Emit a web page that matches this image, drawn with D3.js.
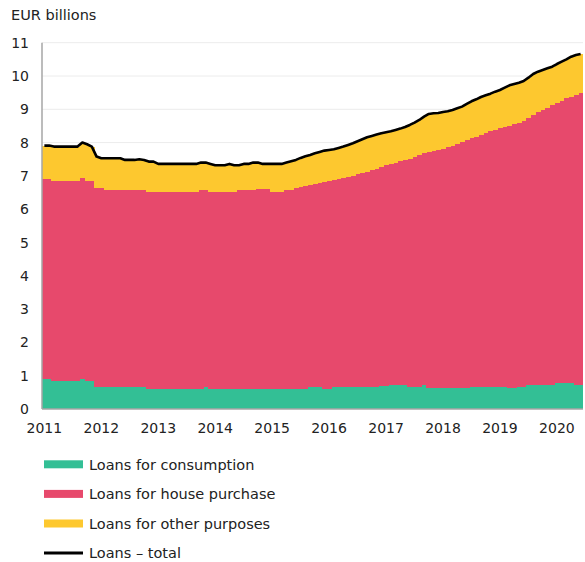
<!DOCTYPE html>
<html>
<head>
<meta charset="utf-8">
<script src="https://cdn.jsdelivr.net/npm/d3@7"></script>
<style>
  html, body { margin: 0; padding: 0; background: #fff; }
  svg text { font-family: "DejaVu Sans", Verdana, sans-serif; fill: #222; }
</style>
</head>
<body>
<svg id="chart" width="585" height="562"></svg>
<script>
// ---- Data (monthly, Jan 2011 – Jun 2020), EUR billions ----
const startYear = 2011;
const nMonths = 114;
const yearTicks = ["2011","2012","2013","2014","2015","2016","2017","2018","2019","2020"];
const yTicks = [0,1,2,3,4,5,6,7,8,9,10,11];

const consumption = [
  0.89,0.89,0.85,0.85,0.85,0.85,0.85,0.85,0.89,0.85,0.85,0.65,
  0.65,0.65,0.65,0.65,0.65,0.65,0.65,0.65,0.65,0.65,0.61,0.61,
  0.61,0.61,0.61,0.61,0.61,0.61,0.61,0.61,0.61,0.61,0.65,0.61,
  0.61,0.61,0.61,0.61,0.61,0.61,0.61,0.61,0.61,0.61,0.61,0.61,
  0.61,0.61,0.61,0.61,0.61,0.61,0.61,0.61,0.65,0.65,0.65,0.61,
  0.61,0.67,0.67,0.67,0.67,0.67,0.67,0.67,0.67,0.67,0.67,0.69,
  0.69,0.71,0.71,0.71,0.71,0.67,0.67,0.67,0.71,0.62,0.62,0.62,
  0.62,0.62,0.62,0.62,0.62,0.62,0.67,0.67,0.67,0.67,0.67,0.67,
  0.67,0.67,0.62,0.62,0.67,0.67,0.72,0.72,0.72,0.72,0.72,0.72,
  0.77,0.77,0.77,0.77,0.72,0.72
];
const housePurchase = [
  6.01,6.01,6.01,6.01,6.01,6.01,6.01,6.01,6.06,6.01,6.01,5.98,
  5.98,5.93,5.93,5.93,5.93,5.93,5.93,5.93,5.93,5.93,5.92,5.92,
  5.92,5.92,5.92,5.92,5.92,5.92,5.92,5.92,5.92,5.97,5.93,5.92,
  5.92,5.92,5.92,5.92,5.92,5.97,5.97,5.97,5.97,6.00,6.00,6.00,
  5.92,5.92,5.92,5.97,5.97,6.02,6.05,6.09,6.08,6.11,6.15,6.22,
  6.25,6.21,6.24,6.26,6.30,6.34,6.38,6.42,6.46,6.51,6.55,6.58,
  6.63,6.65,6.69,6.74,6.77,6.85,6.89,6.95,6.97,7.09,7.13,7.16,
  7.20,7.24,7.29,7.34,7.39,7.46,7.46,7.51,7.57,7.62,7.67,7.71,
  7.76,7.80,7.89,7.93,7.91,7.99,8.03,8.11,8.19,8.27,8.33,8.40,
  8.41,8.48,8.56,8.61,8.72,8.78
];
const otherPurposes = [
  1.01,1.01,1.02,1.02,1.02,1.02,1.02,1.02,1.05,1.09,1.02,0.95,
  0.90,0.95,0.95,0.95,0.95,0.90,0.90,0.90,0.92,0.90,0.90,0.90,
  0.83,0.83,0.83,0.83,0.83,0.83,0.83,0.83,0.83,0.82,0.82,0.83,
  0.79,0.79,0.79,0.83,0.79,0.74,0.78,0.78,0.82,0.79,0.75,0.75,
  0.83,0.83,0.83,0.82,0.86,0.85,0.88,0.89,0.90,0.92,0.92,0.93,
  0.92,0.92,0.93,0.95,0.96,0.97,0.99,1.01,1.03,1.02,1.02,1.01,
  0.99,0.98,0.98,0.97,0.99,1.01,1.04,1.06,1.10,1.15,1.13,1.11,
  1.10,1.08,1.07,1.07,1.07,1.08,1.11,1.12,1.13,1.13,1.13,1.15,
  1.15,1.18,1.21,1.21,1.22,1.19,1.20,1.23,1.22,1.19,1.18,1.16,
  1.18,1.18,1.17,1.20,1.19,1.16
];

const seriesNames = ["Loans for consumption","Loans for house purchase","Loans for other purposes"];
const totalName = "Loans \u2013 total";
const colors = ["#33bf95","#e7496c","#fdc82f"];

// ---- Build table ----
const months = d3.range(nMonths);
const table = months.map(i => ({
  i,
  c: consumption[i],
  h: housePurchase[i],
  o: otherPurposes[i]
}));
const keys = ["c","h","o"];
const stacked = d3.stack().keys(keys)(table);

// ---- Layout ----
const svg = d3.select("#chart");
const mLeft = 42, mRight = 583, mTop = 42.7, mBottom = 409;

const x = d3.scaleBand().domain(months).range([mLeft, mRight]).padding(0);
const y = d3.scaleLinear().domain([0, 11]).range([mBottom, mTop]);

// gridlines
svg.append("g").selectAll("line").data(yTicks.filter(d => d > 0)).join("line")
  .attr("x1", mLeft).attr("x2", mRight)
  .attr("y1", d => y(d)).attr("y2", d => y(d))
  .attr("stroke", "#ececec").attr("stroke-width", 1);

// stacked bars
svg.append("g").selectAll("g").data(stacked).join("g")
  .attr("fill", (d, k) => colors[k])
  .selectAll("rect").data(d => d).join("rect")
  .attr("x", d => x(d.data.i))
  .attr("width", x.bandwidth() + 0.4)
  .attr("y", d => y(d[1]))
  .attr("height", d => y(d[0]) - y(d[1]))
  .attr("shape-rendering", "crispEdges");

// total line
const line = d3.line()
  .x(d => x(d.i) + x.bandwidth() / 2)
  .y(d => y(d.c + d.h + d.o));
svg.append("path")
  .datum(table)
  .attr("d", line)
  .attr("fill", "none")
  .attr("stroke", "#000")
  .attr("stroke-width", 2.6)
  .attr("stroke-linejoin", "round");

// axes lines
svg.append("line").attr("x1", mLeft).attr("x2", mLeft).attr("y1", mTop).attr("y2", mBottom)
  .attr("stroke", "#a6a6a6").attr("stroke-width", 1.5);
svg.append("line").attr("x1", mLeft).attr("x2", mRight).attr("y1", mBottom).attr("y2", mBottom)
  .attr("stroke", "#a6a6a6").attr("stroke-width", 1.5);

// y tick labels
svg.append("g").selectAll("text").data(yTicks).join("text")
  .attr("x", 29).attr("y", d => y(d))
  .attr("dy", "0.36em")
  .attr("text-anchor", "end")
  .attr("font-size", 14)
  .text(d => d);

// x tick labels (at January of each year)
svg.append("g").selectAll("text").data(yearTicks).join("text")
  .attr("x", (d, k) => x(k * 12) + x.bandwidth() / 2)
  .attr("y", 433)
  .attr("text-anchor", "middle")
  .attr("font-size", 14)
  .text(d => d);

// unit label
svg.append("text").attr("x", 11).attr("y", 20).attr("font-size", 14.5).text("EUR billions");

// legend
const legendItems = seriesNames.map((n, k) => ({ name: n, color: colors[k], type: "rect" }))
  .concat([{ name: totalName, color: "#000", type: "line" }]);
const lg = svg.append("g");
legendItems.forEach((it, k) => {
  const cy = 464.3 + k * 29.6;
  if (it.type === "rect") {
    lg.append("rect").attr("x", 44).attr("y", cy - 4).attr("width", 39).attr("height", 8).attr("fill", it.color);
  } else {
    lg.append("line").attr("x1", 44).attr("x2", 83).attr("y1", cy).attr("y2", cy)
      .attr("stroke", "#000").attr("stroke-width", 3);
  }
  lg.append("text").attr("x", 89).attr("y", cy).attr("dy", "0.36em")
    .attr("font-size", 14.5).text(it.name);
});
</script>
</body>
</html>
